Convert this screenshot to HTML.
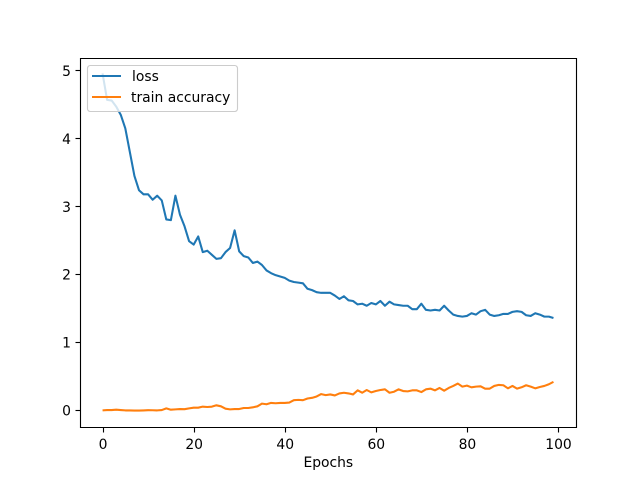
<!DOCTYPE html>
<html>
<head>
<meta charset="utf-8">
<title>Training chart</title>
<style>
html,body{margin:0;padding:0;background:#fff;}
svg{display:block;}
text{font-family:"DejaVu Sans",sans-serif;font-size:13.89px;fill:#000;}
</style>
</head>
<body>
<svg id="chart" xmlns="http://www.w3.org/2000/svg" width="640" height="480" viewBox="0 0 640 480">
  <rect x="0" y="0" width="640" height="480" fill="#fff"/>
  <rect x="80" y="58" width="496" height="369.5" fill="#fff"/>
  <g id="series"></g>
  <g id="ticks"></g>
  <g stroke="#000" stroke-width="1.11" fill="none">
    <line x1="80.5" y1="58" x2="80.5" y2="428"/>
    <line x1="576.5" y1="58" x2="576.5" y2="428"/>
    <line x1="80" y1="58.5" x2="577" y2="58.5"/>
    <line x1="80" y1="427.5" x2="577" y2="427.5"/>
  </g>
  <text x="328.3" y="467" text-anchor="middle">Epochs</text>
  <g>
    <rect x="87.5" y="65.5" width="150" height="46" rx="2.8" ry="2.8" fill="#fff" fill-opacity="0.8" stroke="#ccc" stroke-width="1.11"/>
    <line x1="92" y1="76" x2="121" y2="76" stroke="#1f77b4" stroke-width="2.08"/>
    <text x="132" y="81">loss</text>
    <line x1="92" y1="97" x2="121" y2="97" stroke="#ff7f0e" stroke-width="2.08"/>
    <text x="131" y="102">train accuracy</text>
  </g>
</svg>
<script>
var lossValues = [4.96,4.57,4.56,4.47,4.35,4.15,3.8,3.45,3.24,3.18,3.18,3.10,3.16,3.09,2.81,2.80,3.16,2.88,2.71,2.49,2.44,2.56,2.33,2.35,2.29,2.23,2.24,2.33,2.39,2.65,2.34,2.27,2.25,2.17,2.19,2.14,2.06,2.02,1.99,1.97,1.95,1.91,1.89,1.88,1.87,1.79,1.77,1.74,1.73,1.73,1.73,1.69,1.64,1.68,1.62,1.61,1.56,1.57,1.54,1.58,1.56,1.61,1.54,1.60,1.56,1.55,1.54,1.54,1.49,1.49,1.57,1.48,1.47,1.48,1.47,1.54,1.47,1.41,1.39,1.38,1.39,1.43,1.41,1.46,1.48,1.41,1.39,1.40,1.42,1.42,1.45,1.46,1.45,1.40,1.39,1.43,1.41,1.38,1.38,1.36];
var accuracyValues = [0,0.005,0.005,0.01,0.005,0,0,-0.002,-0.002,0,0.003,0.002,0,0.005,0.03,0.01,0.015,0.02,0.018,0.03,0.04,0.04,0.055,0.05,0.055,0.075,0.06,0.025,0.015,0.02,0.02,0.035,0.035,0.045,0.06,0.10,0.09,0.11,0.105,0.11,0.11,0.115,0.15,0.155,0.15,0.175,0.185,0.205,0.24,0.225,0.235,0.22,0.25,0.26,0.25,0.235,0.295,0.26,0.30,0.265,0.285,0.30,0.31,0.26,0.275,0.31,0.285,0.28,0.295,0.295,0.27,0.31,0.32,0.295,0.33,0.29,0.33,0.36,0.395,0.35,0.365,0.34,0.35,0.355,0.32,0.32,0.36,0.375,0.37,0.325,0.36,0.32,0.34,0.37,0.35,0.325,0.345,0.36,0.385,0.42];
var xTickValues = [0,20,40,60,80,100];
var yTickValues = [0,1,2,3,4,5];

var SVG_NS = 'http://www.w3.org/2000/svg';
function xScale(v){ return 102.55 + v * 4.5546; }
function yScale(v){ return 410.4 - v * 67.95; }
function snapX(p){ return Math.floor(p + 0.5) + 0.5; }
function snapY(p){ return Math.floor(p) + 0.5; }

var ticksGroup = document.getElementById('ticks');
var seriesGroup = document.getElementById('series');

xTickValues.forEach(function(v){
  var px = xScale(v);
  var mark = document.createElementNS(SVG_NS, 'line');
  
  
  mark.setAttribute('x1', snapX(px));
  mark.setAttribute('x2', snapX(px));
  mark.setAttribute('y1', 427.5);
  mark.setAttribute('y2', 432.5);
  mark.setAttribute('stroke', '#000');
  mark.setAttribute('stroke-width', 1.11);
  ticksGroup.appendChild(mark);
  var label = document.createElementNS(SVG_NS, 'text');
  
  
  label.setAttribute('x', px + 0.5);
  label.setAttribute('y', 449);
  label.setAttribute('text-anchor', 'middle');
  label.textContent = String(v);
  ticksGroup.appendChild(label);
});

yTickValues.forEach(function(v){
  var py = yScale(v);
  var mark = document.createElementNS(SVG_NS, 'line');
  
  
  mark.setAttribute('x1', 75.5);
  mark.setAttribute('x2', 80.5);
  mark.setAttribute('y1', snapY(py));
  mark.setAttribute('y2', snapY(py));
  mark.setAttribute('stroke', '#000');
  mark.setAttribute('stroke-width', 1.11);
  ticksGroup.appendChild(mark);
  var label = document.createElementNS(SVG_NS, 'text');
  
  
  label.setAttribute('x', 71);
  label.setAttribute('y', py + 5.2);
  label.setAttribute('text-anchor', 'end');
  label.textContent = String(v);
  ticksGroup.appendChild(label);
});

function buildPoints(values){
  return values.map(function(v, i){
    return xScale(i).toFixed(2) + ',' + yScale(v).toFixed(2);
  }).join(' ');
}

var lossLine = document.createElementNS(SVG_NS, 'polyline');


lossLine.setAttribute('points', buildPoints(lossValues));
lossLine.setAttribute('fill', 'none');
lossLine.setAttribute('stroke', '#1f77b4');
lossLine.setAttribute('stroke-width', 2.08);
lossLine.setAttribute('stroke-linejoin', 'round');
seriesGroup.appendChild(lossLine);

var accuracyLine = document.createElementNS(SVG_NS, 'polyline');


accuracyLine.setAttribute('points', buildPoints(accuracyValues));
accuracyLine.setAttribute('fill', 'none');
accuracyLine.setAttribute('stroke', '#ff7f0e');
accuracyLine.setAttribute('stroke-width', 2.08);
accuracyLine.setAttribute('stroke-linejoin', 'round');
seriesGroup.appendChild(accuracyLine);
</script>
</body>
</html>
